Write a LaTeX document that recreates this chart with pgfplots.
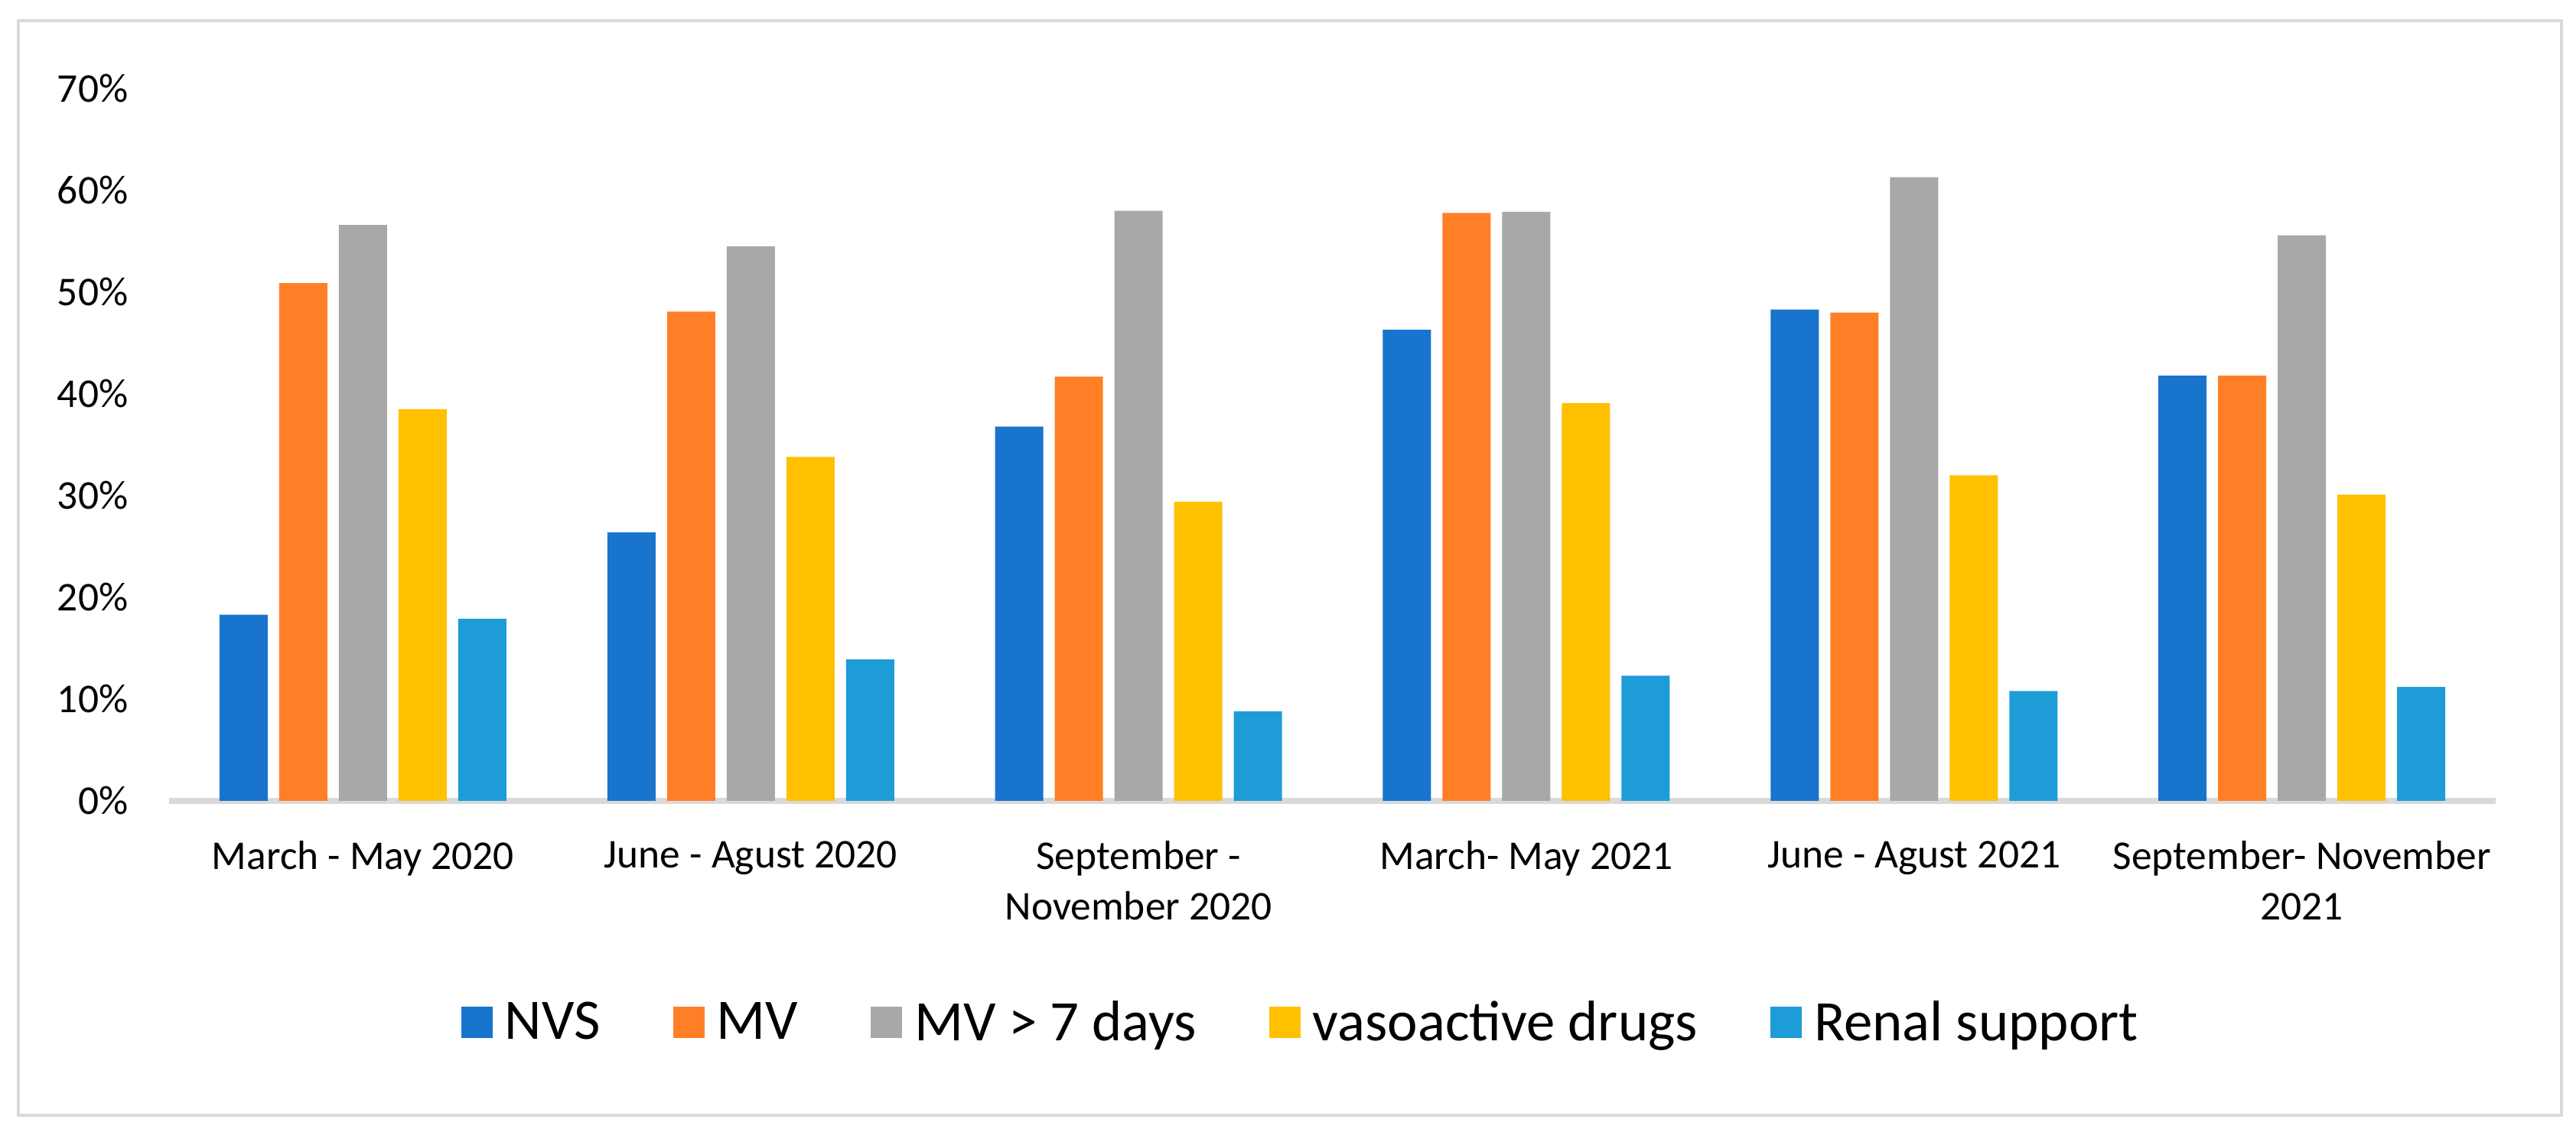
\documentclass[border=0pt]{standalone}
\usepackage{pgfplots}
\pgfplotsset{compat=1.18}
\usepackage{fontspec}
\setmainfont{Carlito}
\definecolor{cNVS}{HTML}{1874CD}
\definecolor{cMV}{HTML}{FF7F27}
\definecolor{cMVs}{HTML}{A8A8A8}
\definecolor{cVaso}{HTML}{FFC000}
\definecolor{cRenal}{HTML}{1E9CD8}
\definecolor{cFrame}{HTML}{D9D9D9}
\begin{document}
\begin{tikzpicture}
\useasboundingbox (0,0) rectangle (33.67cm,14.89cm);
\draw[cFrame, line width=0.04cm] (0.24cm,0.31cm) rectangle (33.48cm,14.62cm);
\begin{axis}[
  at={(2.21cm,4.42cm)}, anchor=south west,
  scale only axis,
  width=30.41cm, height=9.31cm,
  ymin=0, ymax=70,
  xmin=-0.5, xmax=5.5,
  ybar=0.15cm, bar width=0.63cm,
  axis y line*=left,
  axis x line*=bottom,
  y axis line style={draw=none},
  x axis line style={draw=cFrame, line width=0.08cm, -},
  ytick={0,10,...,70},
  xtick={0,...,5},
  major tick length=0pt,
  ytick style={draw=none}, xtick style={draw=none},
  xticklabels={{March - May 2020},{June - Agust 2020},{September -\\November 2020},{March- May 2021},{June - Agust 2021},{September- November\\2021}},
  xticklabel style={align=center, font=\fontsize{15.2pt}{18.8pt}\selectfont, text=black, yshift=-0.40cm},
  yticklabel={\pgfmathprintnumber{\tick}\%},
  yticklabel style={font=\fontsize{15.2pt}{18.8pt}\selectfont, text=black, anchor=east, inner sep=0pt, xshift=-0.53cm},
  /pgf/number format/assume math mode=true,
  legend style={at={(0.4871,-0.3114)}, anchor=center, draw=none, legend columns=5,
    font=\fontsize{21.3pt}{25pt}\selectfont,
    /tikz/every even column/.append style={column sep=0.88cm}},
  legend image code/.code={\fill[#1] (0cm,-0.205cm) rectangle (0.41cm,0.205cm); \path (0.5cm,0cm);},
  clip=false,
]
\addplot[fill=cNVS, draw=none] coordinates {(0,18.3) (1,26.4) (2,36.8) (3,46.3) (4,48.3) (5,41.8)};
\addplot[fill=cMV, draw=none] coordinates {(0,50.9) (1,48.1) (2,41.7) (3,57.8) (4,48.0) (5,41.8)};
\addplot[fill=cMVs, draw=none] coordinates {(0,56.6) (1,54.5) (2,58.0) (3,57.9) (4,61.3) (5,55.6)};
\addplot[fill=cVaso, draw=none] coordinates {(0,38.5) (1,33.8) (2,29.4) (3,39.1) (4,32.0) (5,30.1)};
\addplot[fill=cRenal, draw=none] coordinates {(0,17.9) (1,13.9) (2,8.8) (3,12.3) (4,10.8) (5,11.2)};
\legend{NVS, MV, MV > 7 days, vasoactive drugs, Renal support}
\end{axis}
\end{tikzpicture}
\end{document}
